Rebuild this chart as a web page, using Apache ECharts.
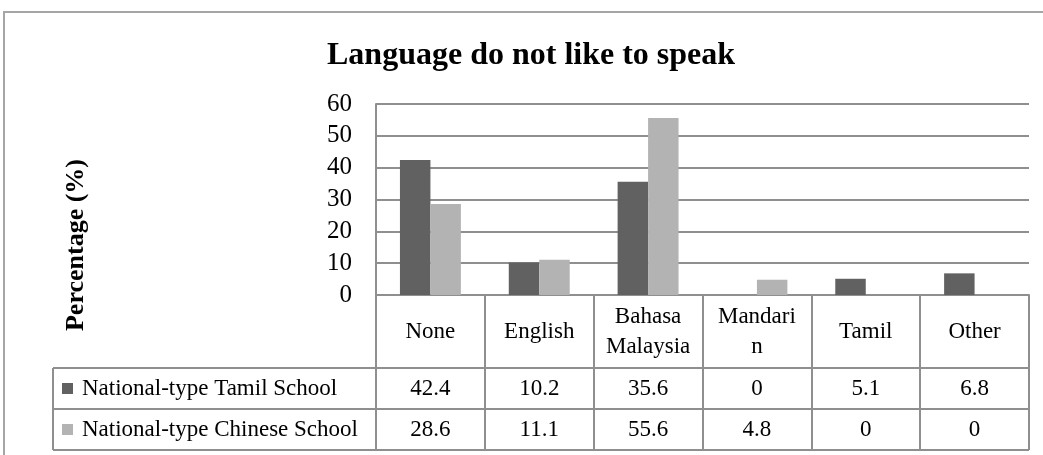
<!DOCTYPE html>
<html>
<head>
<meta charset="utf-8">
<script src="https://cdn.jsdelivr.net/npm/echarts@6/dist/echarts.min.js"></script>
<style>
html,body{margin:0;padding:0;background:#fff;}
#chart{width:1043px;height:455px;}
</style>
</head>
<body>
<div id="chart"></div>
<script>
const titleText = 'Language do not like to speak';
const yAxisTitle = 'Percentage (%)';
const categories = ['None', 'English', 'Bahasa\nMalaysia', 'Mandari\nn', 'Tamil', 'Other'];
const seriesNames = ['National-type Tamil School', 'National-type Chinese School'];
const tamilValues = [42.4, 10.2, 35.6, 0, 5.1, 6.8];
const chineseValues = [28.6, 11.1, 55.6, 4.8, 0, 0];
const yTicks = [0, 10, 20, 30, 40, 50, 60];

const FONT = "'Liberation Serif', 'Times New Roman', serif";
const GRAY = '#8f8f8f';
const DARK = '#616161';
const LIGHT = '#b3b3b3';

const chart = echarts.init(document.getElementById('chart'), null, {renderer: 'canvas'});

const gridL = 376, gridR = 1029, gridT = 104, gridB = 295;
const tableL = 53, row1 = 368, row2 = 409, row3 = 450;

function valueAxis(values, margin) {
  return {
    type: 'category', data: categories, gridIndex: 0, position: 'bottom',
    axisLine: {show: false}, axisTick: {show: false}, splitLine: {show: false},
    axisLabel: {
      interval: 0, margin: margin, verticalAlign: 'middle', align: 'center', color: '#000', fontFamily: FONT, fontSize: 23,
      formatter: (v, i) => String(values[i])
    }
  };
}

chart.setOption({
  animation: false,
  backgroundColor: '#fff',
  title: {
    text: titleText, left: 327, top: 40, padding: 0,
    textStyle: {fontFamily: FONT, fontWeight: 'bold', fontSize: 32, color: '#000'}
  },
  legend: {
    orient: 'vertical', left: 62, top: 377, padding: 0, itemGap: 18,
    itemWidth: 11, itemHeight: 11, icon: 'rect',
    textStyle: {fontFamily: FONT, fontSize: 23, color: '#000', lineHeight: 23, padding: [0, 0, 0, 4]},
    data: seriesNames
  },
  grid: {left: gridL, right: 1043 - gridR, top: gridT, bottom: 455 - gridB},
  xAxis: [
    {
      type: 'category', data: categories, position: 'bottom',
      axisLine: {show: true, lineStyle: {color: GRAY, width: 2}},
      axisTick: {show: true, interval: 0, length: row3 - gridB, lineStyle: {color: GRAY, width: 2}},
      axisLabel: {interval: 0, margin: 37, verticalAlign: 'middle', align: 'center', color: '#000', fontFamily: FONT, fontSize: 23, lineHeight: 30},
      splitLine: {show: false}
    },
    valueAxis(tamilValues, 94),
    valueAxis(chineseValues, 135)
  ],
  yAxis: {
    type: 'value', min: yTicks[0], max: yTicks[yTicks.length - 1], interval: 10,
    axisLine: {show: true, lineStyle: {color: GRAY, width: 2}},
    axisTick: {show: false},
    splitLine: {show: true, lineStyle: {color: GRAY, width: 2}},
    axisLabel: {margin: 24, color: '#000', fontFamily: FONT, fontSize: 25}
  },
  series: [
    {name: seriesNames[0], type: 'bar', data: tamilValues, itemStyle: {color: DARK},
      barGap: '0%', barCategoryGap: '44%'},
    {name: seriesNames[1], type: 'bar', data: chineseValues, itemStyle: {color: LIGHT},
      barGap: '0%', barCategoryGap: '44%'}
  ],
  graphic: [
    {type: 'rect', shape: {x: 4, y: 12, width: 1100, height: 500}, style: {fill: 'none', stroke: '#a6a6a6', lineWidth: 2}, z: 0, silent: true},
    {type: 'text', x: 76, y: 245, rotation: Math.PI / 2,
      style: {text: yAxisTitle, fontFamily: FONT, fontWeight: 'bold', fontSize: 26, fill: '#000', align: 'center', verticalAlign: 'middle'}},
    {type: 'polyline', shape: {points: [[tableL, row1], [gridR, row1]]}, style: {stroke: GRAY, lineWidth: 2}},
    {type: 'polyline', shape: {points: [[tableL, row2], [gridR, row2]]}, style: {stroke: GRAY, lineWidth: 2}},
    {type: 'polyline', shape: {points: [[tableL, row3], [gridR, row3]]}, style: {stroke: GRAY, lineWidth: 2}},
    {type: 'polyline', shape: {points: [[tableL, row1], [tableL, row3]]}, style: {stroke: GRAY, lineWidth: 2}}
  ]
});
</script>
</body>
</html>
